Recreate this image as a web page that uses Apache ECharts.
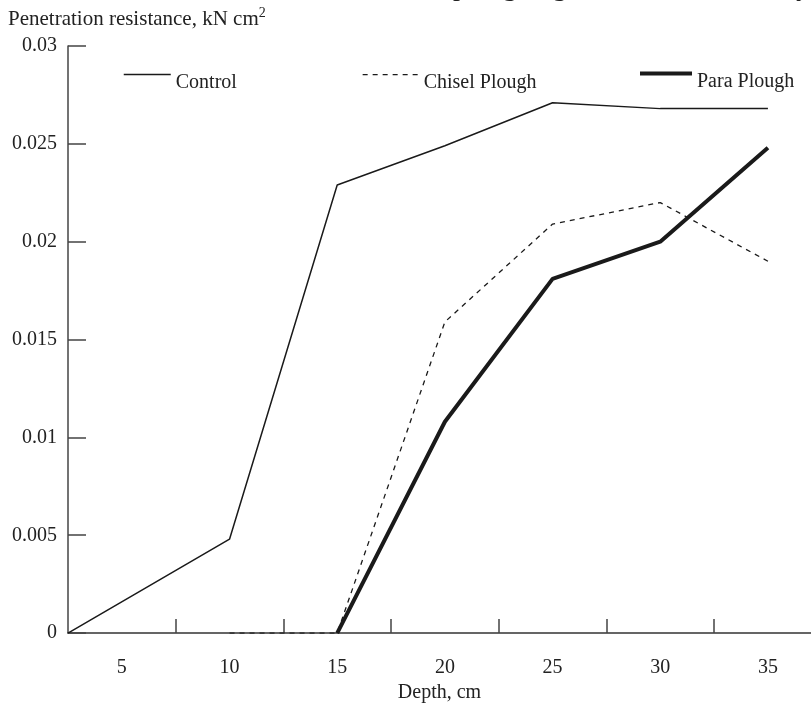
<!DOCTYPE html>
<html>
<head>
<meta charset="utf-8">
<script src="https://cdn.jsdelivr.net/npm/echarts@6/dist/echarts.min.js"></script>
<style>html,body{margin:0;padding:0;background:#fff;}#c{width:811px;height:708px;}</style>
</head>
<body>
<div id="c"></div>
<script>
var depthLabels = [5, 10, 15, 20, 25, 30, 35];
var tickPositions = [7.5, 12.5, 17.5, 22.5, 27.5, 32.5];
var controlDepth = [2.5, 10, 15, 20, 25, 30, 35];
var controlValues = [0, 0.0048, 0.0229, 0.0249, 0.0271, 0.0268, 0.0268];
var chiselDepth = [10, 15, 20, 25, 30, 35];
var chiselValues = [0, 0, 0.0159, 0.0209, 0.0220, 0.0190];
var paraDepth = [15, 20, 25, 30, 35];
var paraValues = [0, 0.0108, 0.0181, 0.0200, 0.0248];

function pairs(xs, ys) { return xs.map(function (x, i) { return [x, ys[i]]; }); }

var FONT = '"Liberation Serif", "Times New Roman", serif';
var FS = 20;
var chart = echarts.init(document.getElementById('c'), null, { renderer: 'canvas' });
function legendItem(name, left, top, w, lw) {
  return { data: [name], left: left, top: top, padding: 0, itemWidth: w, itemHeight: 14, itemGap: 0,
    itemStyle: { opacity: 0 },
    lineStyle: { width: lw },
    formatter: '{a|{name}}',
    textStyle: { fontFamily: FONT, fontSize: FS, color: '#222',
      rich: { a: { fontFamily: FONT, fontSize: FS, color: '#222', padding: [16, 0, 0, 0] } } } };
}
chart.setOption({
  backgroundColor: '#fff',
  animation: false,
  textStyle: { fontFamily: FONT },
  grid: { left: 68, right: 0, top: 46, bottom: 71, containLabel: false },
  xAxis: {
    type: 'value', min: 2.5, max: 37,
    name: 'Depth, cm', nameLocation: 'middle', nameGap: 45,
    nameTextStyle: { fontFamily: FONT, fontSize: FS, color: '#222' },
    axisLine: { show: true, lineStyle: { color: '#333', width: 1.5 } },
    axisTick: { show: true, inside: true, length: 14, customValues: tickPositions, lineStyle: { color: '#444', width: 1.5 } },
    axisLabel: { customValues: depthLabels, margin: 25, fontFamily: FONT, fontSize: FS, color: '#222' },
    splitLine: { show: false }
  },
  yAxis: {
    type: 'value', min: 0, max: 0.03, interval: 0.005,
    name: 'Penetration resistance, kN cm{s|2}', nameLocation: 'end', nameGap: 14,
    nameTextStyle: { fontFamily: FONT, fontSize: 21, color: '#222', align: 'left', padding: [0, 0, 0, -60],
      rich: { s: { fontFamily: FONT, fontSize: 14, verticalAlign: 'top', padding: [0, 0, 12, 0] } } },
    axisLine: { show: true, lineStyle: { color: '#444', width: 1.5 } },
    axisTick: { show: true, inside: true, length: 18, lineStyle: { color: '#444', width: 1.5 } },
    axisLabel: { margin: 11, fontFamily: FONT, fontSize: FS, color: '#222',
      formatter: function (v) { return String(parseFloat(v.toFixed(3))); } },
    splitLine: { show: false }
  },
  legend: [
    legendItem('Control', 123, 69, 47, 1.5),
    legendItem('Chisel Plough', 362, 69, 56, { width: 1.3 }.width),
    legendItem('Para Plough', 638, 68, 52, 4)
  ],
  graphic: [
    { type: 'text', left: 453, top: -26, style: { text: 'ploughing', font: '28px ' + FONT, fill: '#222' }, silent: true },
    { type: 'text', left: 782, top: -26, style: { text: 'by', font: '28px ' + FONT, fill: '#222' }, silent: true }
  ],
  series: [
    { name: 'Control', type: 'line', symbol: 'none', data: pairs(controlDepth, controlValues),
      lineStyle: { color: '#1a1a1a', width: 1.5 }, itemStyle: { color: '#1a1a1a' } },
    { name: 'Chisel Plough', type: 'line', symbol: 'none', data: pairs(chiselDepth, chiselValues),
      lineStyle: { color: '#1a1a1a', width: 1.3, type: [5, 5] }, itemStyle: { color: '#1a1a1a' } },
    { name: 'Para Plough', type: 'line', symbol: 'none', data: pairs(paraDepth, paraValues),
      lineStyle: { color: '#1a1a1a', width: 4 }, itemStyle: { color: '#1a1a1a' } }
  ]
});
</script>
</body>
</html>
